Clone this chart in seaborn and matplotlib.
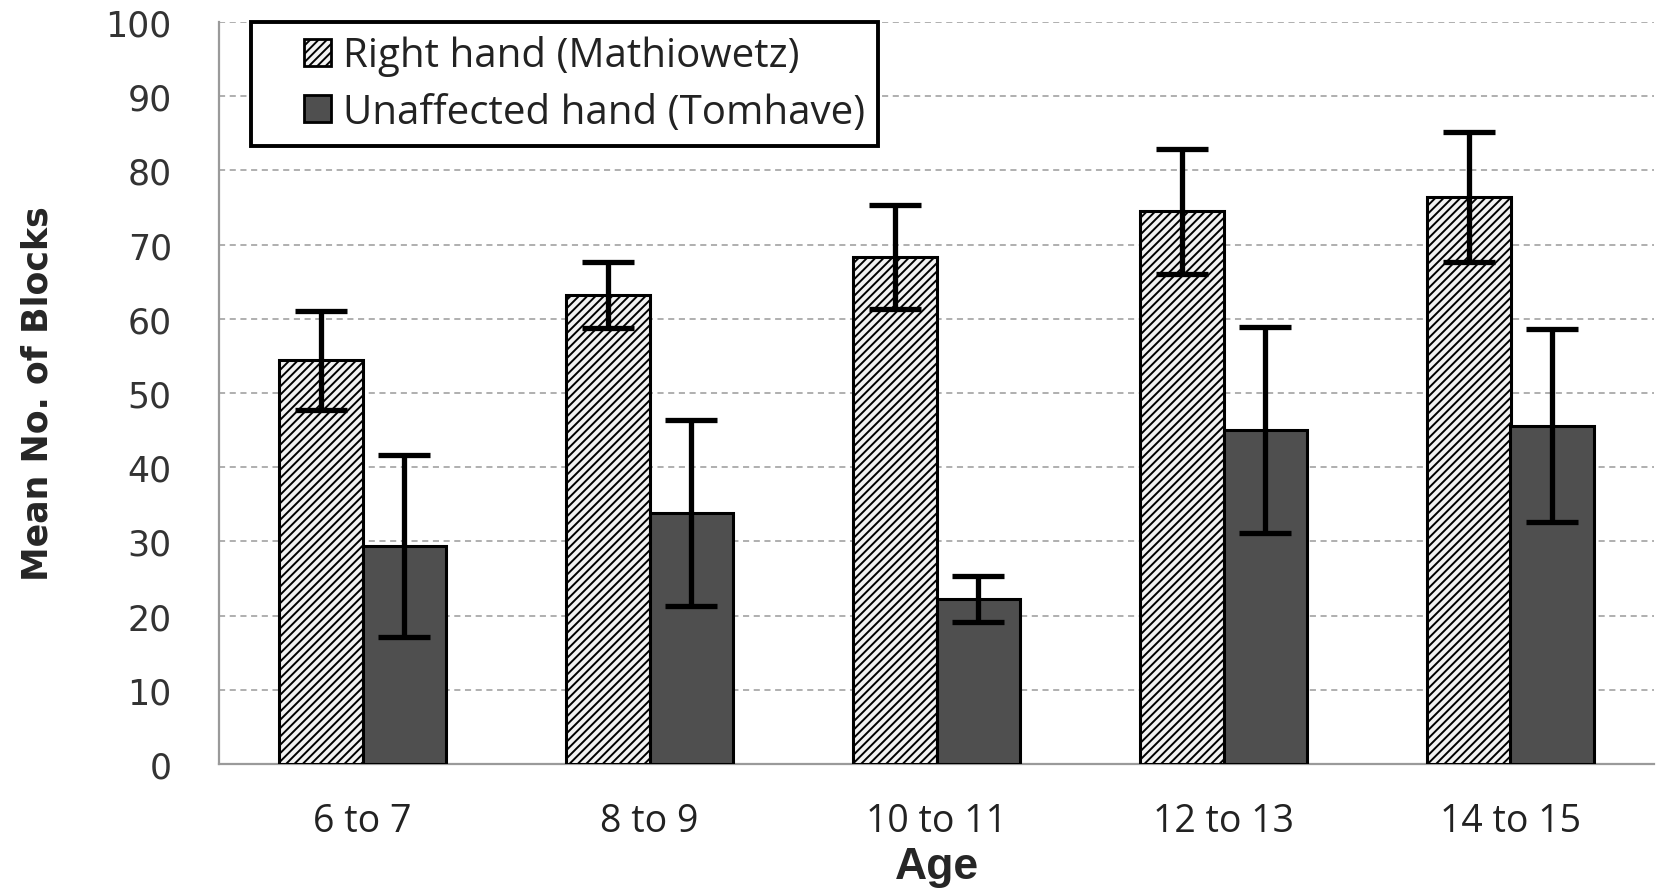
import numpy as np
import pandas as pd
import seaborn as sns
import matplotlib.pyplot as plt
from matplotlib.patches import Rectangle
from matplotlib.legend_handler import HandlerPatch
from matplotlib.ticker import FixedLocator

# values
ages = ["6 to 7", "8 to 9", "10 to 11", "12 to 13", "14 to 15"]
right_mean = [54.4, 63.2, 68.3, 74.5, 76.4]
right_sd = [6.7, 4.5, 7.0, 8.4, 8.8]
unaff_mean = [29.4, 33.8, 22.3, 45.0, 45.6]
unaff_sd = [12.3, 12.5, 3.1, 13.9, 13.0]
hands = ["Right hand (Mathiowetz)", "Unaffected hand (Tomhave)"]

df = pd.DataFrame({
    "Age": ages * 2,
    "Mean": right_mean + unaff_mean,
    "Hand": [hands[0]] * len(ages) + [hands[1]] * len(ages),
})
sds = [right_sd, unaff_sd]

sns.set_style("white")
plt.rcParams["hatch.linewidth"] = 1.4
plt.rcParams["font.family"] = ["Open Sans", "DejaVu Sans"]

fig = plt.figure(figsize=(16.62, 8.95), dpi=100)
ax = fig.add_axes([219 / 1662, 1 - 765 / 895, (1654 - 219) / 1662, (765 - 23) / 895])

sns.barplot(data=df, x="Age", y="Mean", hue="Hand", palette=["#f2f2f2", "#4f4f4f"],
            errorbar=None, width=0.58, edgecolor="black", linewidth=2.2,
            legend=False, ax=ax, zorder=3)
bar_groups = list(ax.containers)

for bar in bar_groups[0]:
    bar.set_hatch("////")

# error bars centred on the drawn bars
for cont, sd in zip(bar_groups, sds):
    xs = [b.get_x() + b.get_width() / 2 for b in cont]
    ys = [b.get_height() for b in cont]
    ax.errorbar(xs, ys, yerr=sd, fmt="none", ecolor="black", elinewidth=3.8,
                capsize=19, capthick=3.8, zorder=4)

ax.set_ylim(0, 100)
ax.set_xlim(-0.5, 4.5)
ax.set_yticks(np.arange(0, 101, 10))
ax.yaxis.grid(True, color="#9a9a9a", linestyle=(0, (4, 3)), linewidth=1.1, zorder=0)
ax.set_axisbelow(True)

for s in ["top", "right"]:
    ax.spines[s].set_visible(False)
for s in ["left", "bottom"]:
    ax.spines[s].set_color("#9a9a9a")
    ax.spines[s].set_linewidth(1.6)

ax.tick_params(axis="y", which="major", direction="out", length=14, width=1.4,
               color="#9a9a9a", pad=20, labelsize=25, labelcolor="#333333",
               labelfontfamily="DejaVu Sans")
ax.xaxis.set_minor_locator(FixedLocator(np.arange(-0.5, 5, 1)))
ax.tick_params(axis="x", which="major", length=0, pad=27, labelsize=27,
               labelcolor="#222222")
ax.tick_params(axis="x", which="minor", direction="out", length=12, width=1.4,
               color="#9a9a9a")

ax.set_ylabel("Mean No. of Blocks", fontsize=25, fontweight="bold",
              family=["Liberation Sans Narrow", "DejaVu Sans"], labelpad=37)
ax.set_xlabel("Age", fontsize=32, fontweight="bold",
              family=["Liberation Sans", "DejaVu Sans"], labelpad=5)


def small_square(legend, orig_handle, xdescent, ydescent, width, height, fontsize):
    side = height * 1.05
    return Rectangle((width - side - xdescent, -ydescent + (height - side) / 2), side, side)


leg = ax.legend([c.patches[0] for c in bar_groups], hands, loc="upper left",
                bbox_to_anchor=(251 / 1662, 1 - 23 / 895),
                bbox_transform=fig.transFigure, borderaxespad=0,
                fontsize=29, fancybox=False, framealpha=1, edgecolor="black",
                handlelength=1.65, handleheight=0.6, handletextpad=0.3,
                labelspacing=0.4, borderpad=0.33,
                handler_map={Rectangle: HandlerPatch(patch_func=small_square)})
leg.get_frame().set_linewidth(2.8)
for t in leg.get_texts():
    t.set_color("#222222")
for h in leg.legend_handles:
    h.set_linewidth(2)

fig.savefig("out.png", dpi=100)
